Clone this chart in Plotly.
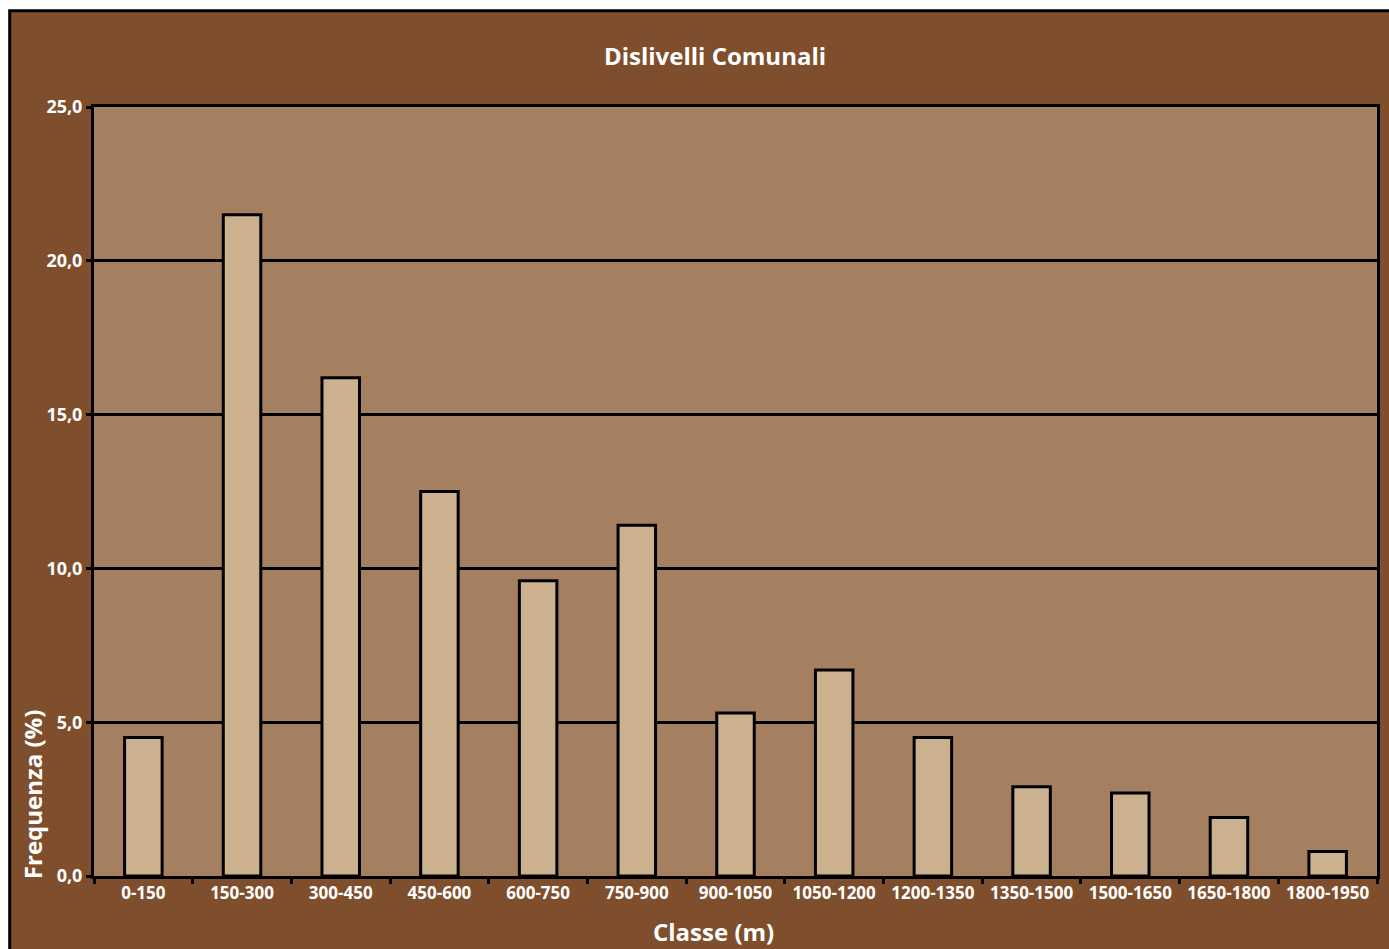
import plotly.graph_objects as go

# Elevation range classes (m) and share of municipalities (%)
classi = ["0-150", "150-300", "300-450", "450-600", "600-750", "750-900",
          "900-1050", "1050-1200", "1200-1350", "1350-1500", "1500-1650",
          "1650-1800", "1800-1950"]
frequenza = [4.5, 21.5, 16.2, 12.5, 9.6, 11.4, 5.3, 6.7, 4.5, 2.9, 2.7, 1.9, 0.8]

y_ticks = [0, 5, 10, 15, 20, 25]

OUTER = "#7f4e2c"
INNER = "#a48060"
BAR = "#cbb18e"
FONT = "Open Sans"

fig = go.Figure(
    go.Bar(
        x=classi,
        y=frequenza,
        marker=dict(color=BAR, line=dict(color="black", width=3)),
        hoverinfo="x+y",
    )
)

L, R, T, B = 94, 9, 107, 73
W, H = 1389, 949
pw = W - L - R
ph = H - T - B

def px_x(p):
    return (p - L) / pw

def px_y(p):
    return (H - B - p) / ph

fig.update_layout(
    width=W,
    height=H,
    margin=dict(l=L, r=R, t=T, b=B, pad=0),
    paper_bgcolor="white",
    plot_bgcolor=INNER,
    separators=",.",
    bargap=0.62,
    showlegend=False,
    font=dict(family=FONT, color="white", size=17),
    title=dict(
        text="<b>Dislivelli Comunali</b>",
        x=715 / W,
        xanchor="center",
        y=1 - 57 / H,
        yanchor="middle",
        font=dict(family=FONT, size=24, color="white"),
    ),
    shapes=[
        # brown frame around the whole chart
        dict(type="rect", xref="paper", yref="paper",
             x0=px_x(9.5), x1=1.2, y0=-0.3, y1=px_y(10.8),
             fillcolor=OUTER, line=dict(color="black", width=3), layer="below"),
        # plotting area background
        dict(type="rect", xref="paper", yref="paper",
             x0=0, x1=1, y0=0, y1=1,
             fillcolor=INNER, line=dict(width=0), layer="below"),
    ],
    annotations=[
        dict(text="<b>Frequenza (%)</b>", xref="paper", yref="paper",
             x=px_x(32), y=px_y(794), xanchor="center", yanchor="middle",
             textangle=-90, showarrow=False,
             font=dict(family=FONT, size=24, color="white")),
        dict(text="<b>Classe (m)</b>", xref="paper", yref="paper",
             x=px_x(715), y=px_y(931), xanchor="center", yanchor="middle",
             showarrow=False,
             font=dict(family=FONT, size=24, color="white")),
    ],
)

fig.update_xaxes(
    type="category",
    showline=True, mirror=True, linecolor="black", linewidth=3,
    ticks="outside", tickson="boundaries", ticklen=5, tickwidth=3, tickcolor="black",
    showgrid=False,
    tickfont=dict(family=FONT, size=17, color="white", weight="bold"),
)

fig.update_yaxes(
    range=[0, 25],
    tickvals=y_ticks,
    tickformat=".1f",
    showline=True, mirror=True, linecolor="black", linewidth=3,
    ticks="outside", ticklen=5, tickwidth=3, tickcolor="black",
    showgrid=True, gridcolor="black", gridwidth=3,
    zeroline=False,
    tickfont=dict(family=FONT, size=18, color="white", weight="bold"),
)

fig.write_html("out.html")
